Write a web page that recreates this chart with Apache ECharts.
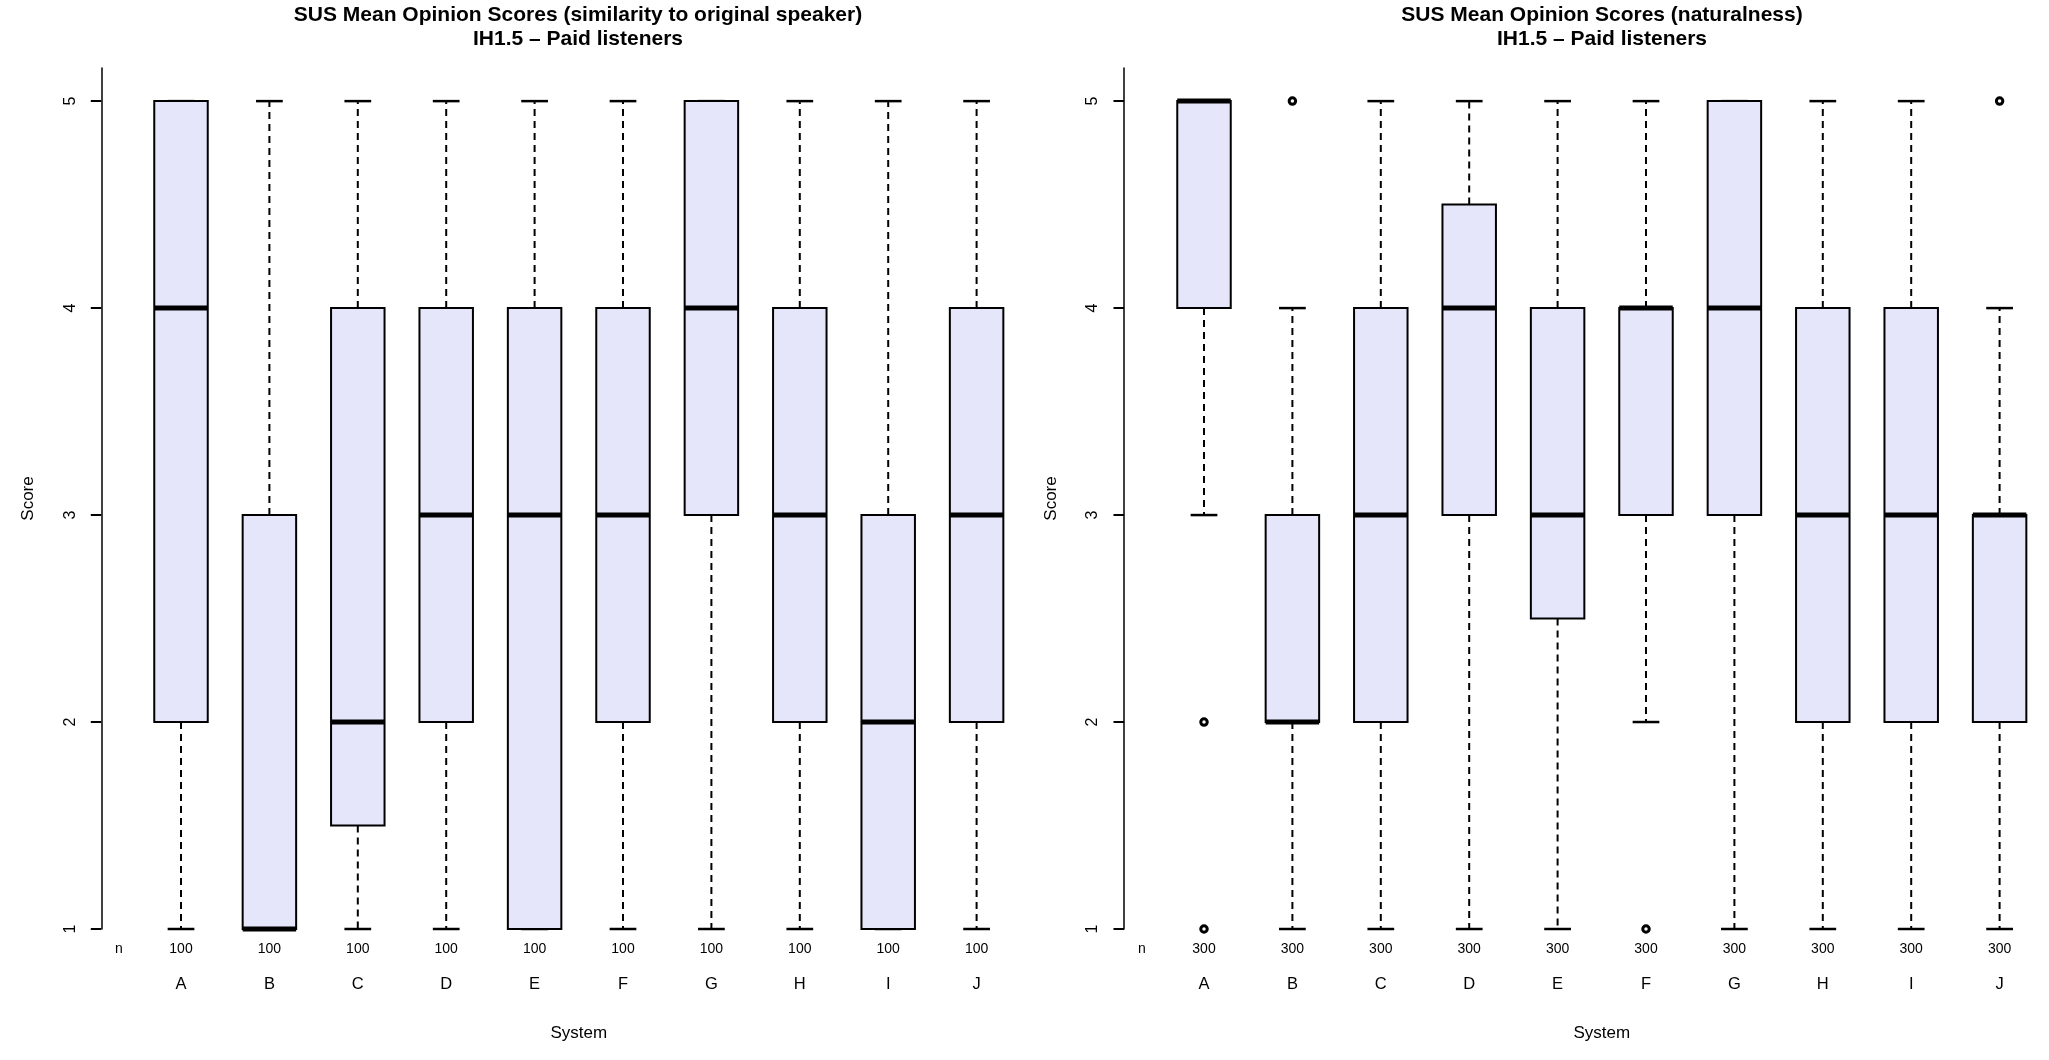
<!DOCTYPE html>
<html>
<head>
<meta charset="utf-8">
<script src="https://cdn.jsdelivr.net/npm/echarts@6/dist/echarts.min.js"></script>
<style>
html,body{margin:0;padding:0;background:#fff;}
#chart{width:2049px;height:1060px;}
</style>
</head>
<body>
<div id="chart"></div>
<script>
// ---------- data ----------
const categories = ['A','B','C','D','E','F','G','H','I','J'];
const yTicks = [1, 2, 3, 4, 5];

// [lower whisker, Q1, median, Q3, upper whisker]
const simStats = [
  [1, 2,   4, 5,   5],
  [1, 1,   1, 3,   5],
  [1, 1.5, 2, 4,   5],
  [1, 2,   3, 4,   5],
  [1, 1,   3, 4,   5],
  [1, 2,   3, 4,   5],
  [1, 3,   4, 5,   5],
  [1, 2,   3, 4,   5],
  [1, 1,   2, 3,   5],
  [1, 2,   3, 4,   5]
];
const simCounts = ['100','100','100','100','100','100','100','100','100','100'];
const simOutliers = [];

const natStats = [
  [3, 4,   5, 5,   5],
  [1, 2,   2, 3,   4],
  [1, 2,   3, 4,   5],
  [1, 3,   4, 4.5, 5],
  [1, 2.5, 3, 4,   5],
  [2, 3,   4, 4,   5],
  [1, 3,   4, 5,   5],
  [1, 2,   3, 4,   5],
  [1, 2,   3, 4,   5],
  [1, 2,   3, 3,   4]
];
const natCounts = ['300','300','300','300','300','300','300','300','300','300'];
// [category index, value]
const natOutliers = [[0, 2], [0, 1], [1, 5], [5, 1], [9, 5]];

const titleSim = 'SUS Mean Opinion Scores (similarity to original speaker)\nIH1.5 \u2013 Paid listeners';
const titleNat = 'SUS Mean Opinion Scores (naturalness)\nIH1.5 \u2013 Paid listeners';

// ---------- chart ----------
const FONT = '"Liberation Sans", Arial, Helvetica, sans-serif';
const BOXFILL = '#E6E6FA';

function renderBox(params, api) {
  const x = api.value(0);
  const lo = api.value(1), q1 = api.value(2), med = api.value(3), q3 = api.value(4), hi = api.value(5);
  const band = api.size([1, 0])[0];
  const bw = band * 0.605;
  const cap = bw / 2;
  const pLo = api.coord([x, lo]);
  const pQ1 = api.coord([x, q1]);
  const pMed = api.coord([x, med]);
  const pQ3 = api.coord([x, q3]);
  const pHi = api.coord([x, hi]);
  const cx = pMed[0];
  const dash = { stroke: '#000', lineWidth: 2, lineDash: [7, 5] };
  const solid = { stroke: '#000', lineWidth: 2.5 };
  const children = [];
  if (lo < q1) {
    children.push({ type: 'line', shape: { x1: cx, y1: pQ1[1], x2: cx, y2: pLo[1] }, style: dash });
  }
  children.push({ type: 'line', shape: { x1: cx - cap / 2, y1: pLo[1], x2: cx + cap / 2, y2: pLo[1] }, style: solid });
  if (hi > q3) {
    children.push({ type: 'line', shape: { x1: cx, y1: pQ3[1], x2: cx, y2: pHi[1] }, style: dash });
  }
  children.push({ type: 'line', shape: { x1: cx - cap / 2, y1: pHi[1], x2: cx + cap / 2, y2: pHi[1] }, style: solid });
  children.push({
    type: 'rect',
    shape: { x: cx - bw / 2, y: pQ3[1], width: bw, height: pQ1[1] - pQ3[1] },
    style: { fill: BOXFILL, stroke: '#000', lineWidth: 2 }
  });
  children.push({ type: 'line', shape: { x1: cx - bw / 2, y1: pMed[1], x2: cx + bw / 2, y2: pMed[1] }, style: { stroke: '#000', lineWidth: 5 } });
  return { type: 'group', children: children };
}

const panels = [
  { left: 136.8, offset: 35.5, title: titleSim, titleX: 578, stats: simStats, counts: simCounts, outliers: simOutliers },
  { left: 1159.8, offset: 35.8, title: titleNat, titleX: 1602, stats: natStats, counts: natCounts, outliers: natOutliers }
];

const GRID_TOP = 68;
const GRID_H = 861;   // value 1 at y = 929
const GRID_W = 884;   // 10 bands of 88.4 px

const option = {
  animation: false,
  backgroundColor: '#fff',
  textStyle: { fontFamily: FONT, color: '#000' },
  title: panels.map(p => ({
    text: p.title,
    left: p.titleX,
    top: 3.5,
    padding: 0,
    textAlign: 'center',
    textStyle: { fontFamily: FONT, fontSize: 21, fontWeight: 'bold', color: '#000', lineHeight: 24 }
  })),
  grid: panels.map(p => ({
    left: p.left, top: GRID_TOP, width: GRID_W, height: GRID_H,
    containLabel: false, outerBoundsMode: 'none'
  })),
  xAxis: [],
  yAxis: [],
  series: []
};

panels.forEach((p, gi) => {
  option.xAxis.push({
    type: 'category', gridIndex: gi, data: categories, position: 'bottom',
    axisLine: { show: false }, axisTick: { show: false }, splitLine: { show: false },
    axisLabel: { margin: 47, fontSize: 16.5, color: '#000', fontFamily: FONT, interval: 0 },
    name: 'System', nameLocation: 'middle', nameGap: 96,
    nameTextStyle: { fontSize: 17, color: '#000', fontFamily: FONT }
  });
  option.xAxis.push({
    type: 'category', gridIndex: gi, data: p.counts, position: 'bottom',
    axisLine: { show: false }, axisTick: { show: false }, splitLine: { show: false },
    axisLabel: { margin: 13, fontSize: 14, color: '#000', fontFamily: FONT, interval: 0 },
    name: 'n', nameLocation: 'start', nameGap: 14,
    nameTextStyle: { fontSize: 14, color: '#000', fontFamily: FONT, verticalAlign: 'top', padding: [13, 0, 0, 0] }
  });
  option.yAxis.push({
    type: 'value', gridIndex: gi, min: 1, max: 5.16, offset: p.offset,
    axisLine: { show: true, lineStyle: { color: '#000', width: 1.5 } },
    axisTick: { show: true, length: 10.5, lineStyle: { color: '#000', width: 2 }, customValues: yTicks },
    axisLabel: { show: true, rotate: 90, margin: 23, fontSize: 16, color: '#000', fontFamily: FONT, customValues: yTicks },
    splitLine: { show: false },
    name: 'Score', nameLocation: 'middle', nameGap: 64, nameRotate: 90,
    nameTextStyle: { fontSize: 17, color: '#000', fontFamily: FONT }
  });
  option.series.push({
    type: 'custom', xAxisIndex: gi * 2, yAxisIndex: gi,
    renderItem: renderBox,
    encode: { x: 0, y: [1, 2, 3, 4, 5] },
    data: p.stats.map((s, i) => [i].concat(s)),
    silent: true
  });
  if (p.outliers.length) {
    option.series.push({
      type: 'scatter', xAxisIndex: gi * 2, yAxisIndex: gi,
      symbol: 'circle', symbolSize: 6.5,
      itemStyle: { color: '#fff', borderColor: '#000', borderWidth: 3, opacity: 1 },
      data: p.outliers, silent: true, z: 5
    });
  }
});

const chart = echarts.init(document.getElementById('chart'), null, { renderer: 'canvas' });
chart.setOption(option);
</script>
</body>
</html>
